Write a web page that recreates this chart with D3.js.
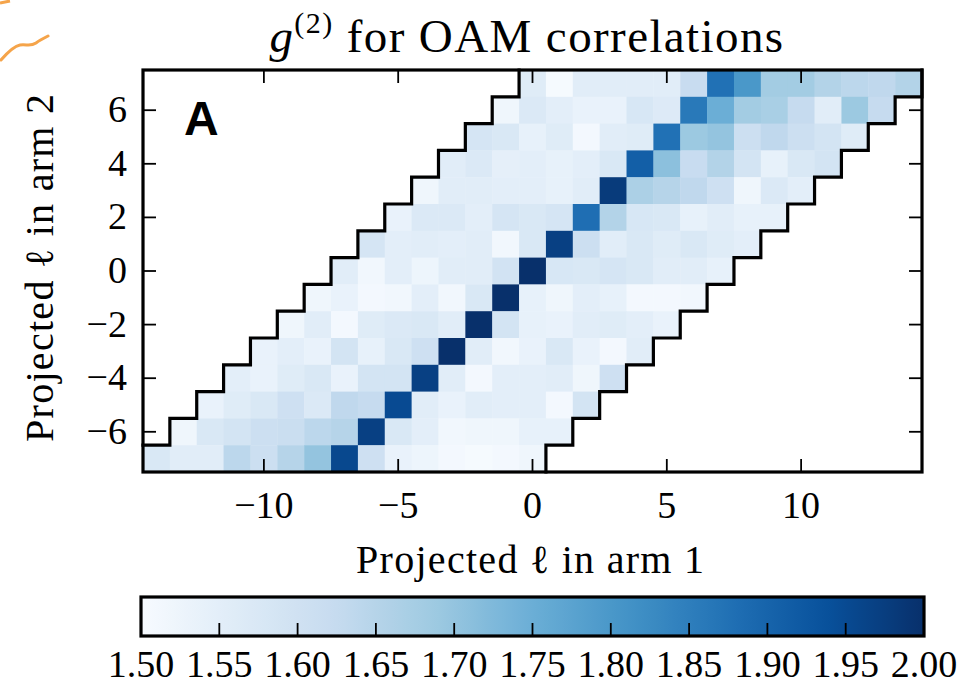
<!DOCTYPE html>
<html>
<head>
<meta charset="utf-8">
<script src="https://cdn.jsdelivr.net/npm/d3@7"></script>
<style>
  body { margin: 0; background: #fff; }
  svg { display: block; }
  text { font-family: "Liberation Serif", "DejaVu Serif", serif; fill: #000; }
</style>
</head>
<body>
<div id="chart"></div>
<script>
// Projected l in arm 2 (rows, top to bottom)
var armTwo = [7, 6, 5, 4, 3, 2, 1, 0, -1, -2, -3, -4, -5, -6, -7];
// each row holds arm 1 values from l2 - 7 up to l2 + 7
var bandHalf = 7;
var g2Rows = [
  [1.56, 1.505, 1.555, 1.555, 1.555, 1.555, 1.62, 1.875, 1.80, 1.68, 1.68, 1.655, 1.64, 1.635, 1.655],
  [1.52, 1.57, 1.55, 1.535, 1.535, 1.58, 1.565, 1.86, 1.75, 1.68, 1.67, 1.625, 1.555, 1.69, 1.625],
  [1.585, 1.575, 1.54, 1.56, 1.51, 1.555, 1.56, 1.875, 1.69, 1.70, 1.61, 1.635, 1.61, 1.59, 1.56],
  [1.555, 1.57, 1.545, 1.55, 1.54, 1.55, 1.575, 1.91, 1.71, 1.62, 1.655, 1.59, 1.54, 1.575, 1.59],
  [1.52, 1.555, 1.555, 1.55, 1.55, 1.54, 1.555, 1.98, 1.665, 1.65, 1.635, 1.605, 1.52, 1.57, 1.55],
  [1.535, 1.57, 1.57, 1.55, 1.585, 1.575, 1.585, 1.88, 1.655, 1.58, 1.575, 1.54, 1.555, 1.54, 1.54],
  [1.585, 1.55, 1.555, 1.55, 1.555, 1.515, 1.575, 1.97, 1.61, 1.555, 1.575, 1.56, 1.575, 1.56, 1.55],
  [1.555, 1.515, 1.55, 1.525, 1.555, 1.555, 1.595, 2.00, 1.58, 1.575, 1.585, 1.575, 1.555, 1.555, 1.54],
  [1.52, 1.535, 1.51, 1.515, 1.55, 1.515, 1.575, 2.00, 1.54, 1.52, 1.55, 1.54, 1.51, 1.51, 1.515],
  [1.52, 1.555, 1.51, 1.56, 1.57, 1.575, 1.555, 2.00, 1.59, 1.54, 1.535, 1.555, 1.56, 1.55, 1.535],
  [1.535, 1.55, 1.535, 1.59, 1.54, 1.575, 1.605, 2.00, 1.555, 1.515, 1.535, 1.575, 1.535, 1.51, 1.555],
  [1.55, 1.535, 1.56, 1.575, 1.535, 1.59, 1.59, 1.97, 1.555, 1.51, 1.55, 1.55, 1.555, 1.52, 1.605],
  [1.535, 1.56, 1.575, 1.605, 1.57, 1.635, 1.625, 1.95, 1.555, 1.535, 1.555, 1.55, 1.55, 1.51, 1.59],
  [1.52, 1.575, 1.59, 1.61, 1.615, 1.64, 1.65, 1.97, 1.575, 1.55, 1.515, 1.52, 1.52, 1.54, 1.54],
  [1.575, 1.555, 1.555, 1.64, 1.61, 1.65, 1.70, 1.955, 1.605, 1.535, 1.525, 1.51, 1.505, 1.51, 1.52]
];
var xTicks = [-10, -5, 0, 5, 10];
var yTicks = [-6, -4, -2, 0, 2, 4, 6];
var cbTicks = [1.50, 1.55, 1.60, 1.65, 1.70, 1.75, 1.80, 1.85, 1.90, 1.95, 2.00];

// matplotlib "Blues"
var bluesStops = ["#f7fbff", "#deebf7", "#c6dbef", "#9ecae1", "#6baed6",
                  "#4292c6", "#2171b5", "#08519c", "#08306b"];

var W = 974, H = 684;
var svg = d3.select("#chart").append("svg")
  .attr("width", W).attr("height", H);

var plot = {left: 143, right: 922, top: 70, bottom: 472};

var x = d3.scaleLinear().domain([-14.5, 14.5]).range([plot.left, plot.right]);
var y = d3.scaleLinear().domain([-7.5, 7.5]).range([plot.bottom, plot.top]);

var color = d3.scaleLinear()
  .domain(bluesStops.map(function(d, i) { return 1.5 + i * 0.5 / (bluesStops.length - 1); }))
  .range(bluesStops)
  .clamp(true);

// flatten rows into cells
var cells = [];
g2Rows.forEach(function(row, r) {
  var l2 = armTwo[r];
  row.forEach(function(v, k) {
    cells.push({l1: l2 - bandHalf + k, l2: l2, value: v});
  });
});

var cw = x(1) - x(0), ch = y(0) - y(1);

svg.append("g").attr("class", "cells")
  .selectAll("rect")
  .data(cells)
  .enter()
  .append("rect")
  .attr("x", function(d) { return x(d.l1 - 0.5); })
  .attr("y", function(d) { return y(d.l2 + 0.5); })
  .attr("width", cw + 0.4)
  .attr("height", ch + 0.4)
  .attr("fill", function(d) { return color(d.value); });

// staircase borders of the measured band
var lo = d3.min(armTwo), hi = d3.max(armTwo);
var leftStair = [[-14.5, lo + 0.5]];
var rightStair = [[lo + bandHalf + 0.5, lo - 0.5]];
for (var l = lo; l <= hi; l++) {
  var lx = l - bandHalf - 0.5, rx = l + bandHalf + 0.5;
  if (l > lo) {
    leftStair.push([lx, l - 0.5]);
    leftStair.push([lx, l + 0.5]);
  }
  rightStair.push([rx, l + 0.5]);
  if (l < hi) rightStair.push([rx + 1, l + 0.5]);
  else rightStair.push([14.5, l + 0.5]);
  if (l < hi) leftStair.push([lx + 1, l + 0.5]);
}
var stairLine = d3.line()
  .x(function(d) { return x(d[0]); })
  .y(function(d) { return y(d[1]); });

[leftStair, rightStair].forEach(function(pts) {
  svg.append("path")
    .attr("d", stairLine(pts))
    .attr("fill", "none")
    .attr("stroke", "#000")
    .attr("stroke-width", 3.2)
    .attr("stroke-linejoin", "miter")
    .attr("stroke-linecap", "square");
});

// inward ticks on all four sides
var tickLen = 13;
var ticks = svg.append("g").attr("stroke", "#000").attr("stroke-width", 1.8);
xTicks.forEach(function(t) {
  ticks.append("line").attr("x1", x(t)).attr("x2", x(t))
    .attr("y1", plot.bottom).attr("y2", plot.bottom - tickLen);
  ticks.append("line").attr("x1", x(t)).attr("x2", x(t))
    .attr("y1", plot.top).attr("y2", plot.top + tickLen);
});
yTicks.forEach(function(t) {
  ticks.append("line").attr("y1", y(t)).attr("y2", y(t))
    .attr("x1", plot.left).attr("x2", plot.left + tickLen);
  ticks.append("line").attr("y1", y(t)).attr("y2", y(t))
    .attr("x1", plot.right).attr("x2", plot.right - tickLen);
});

// frame
svg.append("rect")
  .attr("x", plot.left).attr("y", plot.top)
  .attr("width", plot.right - plot.left)
  .attr("height", plot.bottom - plot.top)
  .attr("fill", "none")
  .attr("stroke", "#000")
  .attr("stroke-width", 3.2);

var fmt = d3.format("d");

svg.append("g").selectAll("text")
  .data(xTicks).enter().append("text")
  .attr("x", function(d) { return x(d); })
  .attr("y", 518)
  .attr("text-anchor", "middle")
  .style("font-size", "38px")
  .text(function(d) { return fmt(d); });

svg.append("g").selectAll("text")
  .data(yTicks).enter().append("text")
  .attr("x", 127)
  .attr("y", function(d) { return y(d) + 12; })
  .attr("text-anchor", "end")
  .style("font-size", "38px")
  .text(function(d) { return fmt(d); });

// axis titles
svg.append("text")
  .attr("x", 530).attr("y", 573)
  .attr("text-anchor", "middle")
  .attr("textLength", 348)
  .attr("lengthAdjust", "spacing")
  .style("font-size", "40px")
  .text("Projected ℓ in arm 1");

svg.append("text")
  .attr("transform", "translate(53,268) rotate(-90)")
  .attr("text-anchor", "middle")
  .attr("textLength", 348)
  .attr("lengthAdjust", "spacing")
  .style("font-size", "40px")
  .text("Projected ℓ in arm 2");

// title
var title = svg.append("text")
  .attr("x", 527).attr("y", 52)
  .attr("text-anchor", "middle")
  .style("font-size", "47px")
  .style("letter-spacing", "1.4px");
title.append("tspan").style("font-style", "italic").text("g");
title.append("tspan").attr("dy", -19).style("font-size", "30px").text("(2)");
title.append("tspan").attr("dy", 19).text(" for OAM correlations");

// panel letter
svg.append("text")
  .attr("x", 184).attr("y", 135)
  .style("font-family", "'Liberation Sans', Arial, sans-serif")
  .style("font-weight", "bold")
  .style("font-size", "48px")
  .text("A");

// colorbar
var cb = {left: 141, right: 924, top: 597, bottom: 636};
var cbX = d3.scaleLinear().domain([1.5, 2.0]).range([cb.left, cb.right]);

var grad = svg.append("defs").append("linearGradient")
  .attr("id", "cbgrad").attr("x1", "0%").attr("x2", "100%");
d3.range(0, 1.0001, 0.02).forEach(function(t) {
  grad.append("stop")
    .attr("offset", (t * 100) + "%")
    .attr("stop-color", color(1.5 + 0.5 * t));
});

svg.append("rect")
  .attr("x", cb.left).attr("y", cb.top)
  .attr("width", cb.right - cb.left)
  .attr("height", cb.bottom - cb.top)
  .attr("fill", "url(#cbgrad)");

svg.append("g").attr("stroke", "#000").attr("stroke-width", 1.8)
  .selectAll("line")
  .data(cbTicks.slice(1, -1)).enter().append("line")
  .attr("x1", function(d) { return cbX(d); })
  .attr("x2", function(d) { return cbX(d); })
  .attr("y1", cb.bottom).attr("y2", cb.bottom - tickLen);

svg.append("rect")
  .attr("x", cb.left).attr("y", cb.top)
  .attr("width", cb.right - cb.left)
  .attr("height", cb.bottom - cb.top)
  .attr("fill", "none")
  .attr("stroke", "#000")
  .attr("stroke-width", 3.2);

svg.append("g").selectAll("text")
  .data(cbTicks).enter().append("text")
  .attr("x", function(d) { return cbX(d); })
  .attr("y", 677)
  .attr("text-anchor", "middle")
  .style("font-size", "38px")
  .text(function(d) { return d3.format(".2f")(d); });

// orange pen marks from the source screenshot
svg.append("path")
  .attr("d", "M1,60 C8,52 14,46 20,45 C27,44 30,47 36,43 C40,40 44,38 48,36")
  .attr("fill", "none").attr("stroke", "#f5a44a").attr("stroke-width", 3)
  .attr("stroke-linecap", "round");
svg.append("path")
  .attr("d", "M0,3 L10,1")
  .attr("fill", "none").attr("stroke", "#f5a44a").attr("stroke-width", 3);
</script>
</body>
</html>
